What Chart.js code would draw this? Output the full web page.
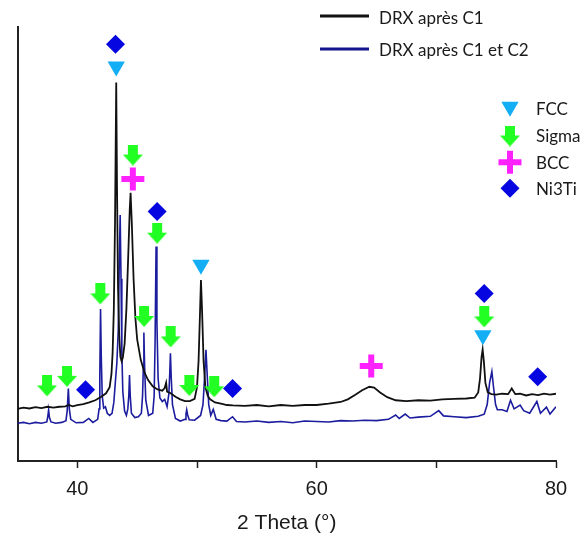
<!DOCTYPE html>
<html>
<head>
<meta charset="utf-8">
<script src="https://cdn.jsdelivr.net/npm/chart.js@4/dist/chart.umd.min.js"></script>
<style>
  html, body { margin: 0; padding: 0; background: #fff; }
  #wrap { width: 585px; height: 539px; position: relative; }
</style>
</head>
<body>
<div id="wrap"><canvas id="xrdChart"></canvas></div>
<script>
// 2 Theta positions and intensities (arbitrary units, 0-100 of the plot height)
var blackTheta = [35.0, 35.5, 36.0, 36.5, 37.0, 37.5, 38.0, 38.5, 39.0, 39.3, 39.6, 40.0, 40.5, 41.0, 41.5, 42.0, 42.4, 42.7, 42.85, 42.95, 43.05, 43.15, 43.25, 43.32, 43.4, 43.5, 43.6, 43.7, 43.8, 43.95, 44.1, 44.25, 44.38, 44.45, 44.55, 44.7, 44.85, 45.0, 45.3, 45.6, 45.9, 46.3, 46.7, 47.1, 47.3, 47.42, 47.5, 47.8, 48.2, 48.6, 49.0, 49.4, 49.8, 50.0, 50.13, 50.25, 50.33, 50.42, 50.55, 50.7, 50.9, 51.1, 51.5, 52.0, 52.5, 53.0, 54.0, 55.0, 56.0, 57.0, 58.0, 59.0, 60.0, 61.0, 62.0, 62.6, 63.2, 63.8, 64.4, 64.8, 65.3, 65.9, 66.6, 67.5, 68.5, 69.5, 70.5, 71.5, 72.5, 73.2, 73.5, 73.65, 73.78, 73.87, 73.97, 74.1, 74.3, 74.6, 75.0, 75.5, 76.0, 76.3, 76.6, 77.0, 77.5, 78.0, 78.5, 79.0, 79.5, 80.0];
var blackInt = [12.0, 12.3, 12.1, 12.4, 12.2, 12.5, 12.3, 12.5, 12.6, 12.9, 12.6, 12.9, 13.1, 13.5, 14.0, 14.8, 15.6, 17.0, 20.0, 25.0, 35.0, 55.0, 87.2, 62.0, 40.0, 29.0, 24.0, 23.0, 23.8, 27.0, 35.0, 47.0, 58.0, 61.8, 55.0, 42.0, 33.0, 28.0, 23.3, 20.5, 18.7, 17.2, 16.5, 16.2, 16.8, 18.0, 16.0, 15.6, 14.8, 14.2, 13.8, 13.8, 14.3, 17.0, 23.0, 34.0, 41.7, 35.0, 23.0, 17.0, 15.0, 14.2, 13.5, 13.2, 12.9, 12.8, 12.7, 12.9, 12.6, 12.9, 12.7, 12.9, 12.9, 13.2, 13.6, 14.2, 15.2, 16.3, 17.1, 16.9, 15.8, 14.7, 14.0, 13.8, 14.0, 13.9, 14.2, 14.3, 14.4, 14.6, 15.8, 19.0, 24.0, 25.7, 23.0, 18.0, 15.8, 15.4, 15.3, 15.5, 15.4, 16.7, 15.4, 15.5, 15.1, 15.4, 15.2, 15.5, 15.3, 15.5];

var blueTheta = [35.0, 35.5, 36.0, 36.5, 37.0, 37.45, 37.53, 37.6, 37.67, 37.8, 38.2, 38.7, 39.05, 39.15, 39.25, 39.33, 39.45, 39.9, 40.5, 40.95, 41.3, 41.7, 41.82, 41.88, 41.94, 42.0, 42.08, 42.2, 42.35, 42.5, 42.7, 42.9, 43.05, 43.2, 43.3, 43.42, 43.5, 43.58, 43.65, 43.72, 43.8, 43.95, 44.1, 44.22, 44.3, 44.36, 44.42, 44.52, 44.8, 45.1, 45.35, 45.45, 45.52, 45.56, 45.62, 45.72, 45.95, 46.3, 46.42, 46.5, 46.58, 46.65, 46.75, 46.9, 47.1, 47.3, 47.5, 47.65, 47.72, 47.78, 47.85, 47.95, 48.2, 48.6, 49.0, 49.08, 49.14, 49.22, 49.35, 49.8, 50.3, 50.5, 50.65, 50.75, 50.85, 50.98, 51.15, 51.36, 51.6, 52.0, 52.5, 52.97, 53.3, 54.0, 55.0, 56.0, 57.0, 58.0, 59.0, 60.0, 61.0, 62.0, 63.0, 64.0, 65.0, 66.0, 66.6, 66.9, 67.4, 67.8, 68.5, 69.5, 70.2, 70.6, 71.5, 72.5, 73.5, 74.0, 74.25, 74.45, 74.64, 74.78, 74.95, 75.1, 75.5, 75.9, 76.2, 76.5, 77.0, 77.3, 77.8, 78.4, 78.7, 79.2, 79.5, 80.0];
var blueInt = [8.7, 8.9, 8.6, 8.9, 8.7, 9.0, 10.2, 11.8, 10.0, 9.0, 8.7, 8.9, 9.3, 11.5, 16.7, 12.0, 9.6, 8.8, 8.9, 9.8, 8.9, 9.6, 12.0, 20.0, 35.0, 24.0, 15.0, 12.2, 12.5, 11.0, 10.5, 11.0, 13.5, 19.0, 22.5, 30.0, 45.0, 56.7, 42.0, 25.0, 16.0, 11.5, 10.5, 12.0, 15.0, 19.8, 15.0, 11.0, 10.0, 10.2, 11.0, 15.0, 22.0, 29.6, 22.0, 14.0, 10.5, 11.0, 15.0, 28.0, 49.4, 32.0, 19.0, 14.5, 13.7, 14.2, 12.5, 15.5, 20.0, 24.8, 19.0, 13.0, 9.8, 9.2, 9.6, 10.8, 11.8, 10.6, 9.5, 9.4, 10.5, 13.0, 20.0, 25.6, 20.0, 13.0, 10.5, 11.9, 9.6, 9.3, 9.2, 10.2, 9.1, 9.0, 9.2, 8.9, 9.1, 8.8, 9.2, 9.1, 9.0, 9.3, 9.2, 9.4, 9.3, 9.6, 10.6, 9.8, 10.8, 9.9, 10.1, 10.3, 11.6, 10.4, 10.2, 10.0, 10.3, 10.8, 13.0, 18.0, 20.6, 17.0, 13.0, 11.8, 11.8, 11.4, 14.0, 12.0, 12.9, 11.6, 11.0, 13.7, 11.0, 12.4, 10.8, 12.5];

// phase markers (2 Theta, height of the marker)
var fccTheta = [43.25, 50.33, 73.89];
var fccPos = [90.9, 45.2, 29.0];
var sigmaTheta = [37.47, 39.14, 41.92, 44.64, 45.58, 46.67, 47.8, 49.36, 51.44, 74.0];
var sigmaPos = [17.3, 19.5, 38.5, 70.5, 33.3, 52.5, 28.6, 17.4, 17.1, 33.2];
var bccTheta = [44.64, 64.56];
var bccPos = [65.0, 21.9];
var ni3tiTheta = [43.19, 46.67, 40.69, 52.97, 74.0, 78.47];
var ni3tiPos = [96.0, 57.5, 16.4, 16.7, 38.6, 19.4];

var xTickValues = [40, 50, 60, 70, 80];
var xTickLabels = [40, 60, 80];

var seriesNames = ['DRX après C1', 'DRX après C1 et C2'];
var phaseNames = ['FCC', 'Sigma', 'BCC', 'Ni3Ti'];

function toPoints(xs, ys) {
    return xs.map(function (x, i) { return { x: x, y: ys[i] }; });
}

// green down arrow used as point style
function makeArrow(color) {
    var c = document.createElement('canvas');
    c.width = 20;
    c.height = 21;
    var g = c.getContext('2d');
    g.fillStyle = color;
    g.beginPath();
    g.moveTo(5, 0);
    g.lineTo(15, 0);
    g.lineTo(15, 10);
    g.lineTo(20, 10);
    g.lineTo(10, 21);
    g.lineTo(0, 10);
    g.lineTo(5, 10);
    g.closePath();
    g.fill();
    return c;
}

var arrowImg = makeArrow('#22ff22');

var markerStyles = [
    { pointStyle: 'triangle', rotation: 180, radius: 10, color: '#14aef5', borderWidth: 0 },
    { pointStyle: arrowImg, rotation: 0, radius: 10, color: '#22ff22', borderWidth: 0 },
    { pointStyle: 'cross', rotation: 0, radius: 11.5, color: '#ff22ff', borderWidth: 6 },
    { pointStyle: 'rectRot', rotation: 0, radius: 9.5, color: '#0606e0', borderWidth: 0 }
];

function markerDataset(label, xs, ys, st) {
    return {
        label: label,
        type: 'scatter',
        data: toPoints(xs, ys),
        showLine: false,
        pointStyle: st.pointStyle,
        rotation: st.rotation,
        pointRadius: st.radius,
        pointHoverRadius: st.radius,
        backgroundColor: st.color,
        borderColor: st.color,
        borderWidth: st.borderWidth,
        order: 0
    };
}

// legends drawn at fixed places like in the figure
var legendPlugin = {
    id: 'xrdLegend',
    afterDraw: function (chart) {
        var ctx = chart.ctx;
        ctx.save();
        ctx.font = '17px Lato';
        ctx.fillStyle = '#1a1a1a';
        ctx.textBaseline = 'alphabetic';
        ctx.textAlign = 'left';

        var lineColors = ['#111111', '#14148c'];
        var lineY = [16, 49];
        var textY = [24, 56];
        for (var i = 0; i < seriesNames.length; i++) {
            ctx.strokeStyle = lineColors[i];
            ctx.lineWidth = 3;
            ctx.beginPath();
            ctx.moveTo(320, lineY[i]);
            ctx.lineTo(369, lineY[i]);
            ctx.stroke();
            ctx.fillText(seriesNames[i], 379, textY[i]);
        }

        var markY = [106.7, 136, 162.3, 188.3];
        var labY = [115, 142, 168.5, 195];
        for (var j = 0; j < phaseNames.length; j++) {
            var st = markerStyles[j];
            ctx.fillStyle = st.color;
            ctx.strokeStyle = st.color;
            ctx.lineWidth = st.borderWidth;
            Chart.helpers.drawPoint(ctx, {
                pointStyle: st.pointStyle,
                rotation: st.rotation,
                radius: st.radius,
                borderWidth: st.borderWidth
            }, 510, markY[j]);
            ctx.fillStyle = '#1a1a1a';
            ctx.fillText(phaseNames[j], 536, labY[j]);
        }
        ctx.restore();
    }
};

var ctx = document.getElementById('xrdChart').getContext('2d');
var xrdChart = new Chart(ctx, {
    type: 'line',
    data: {
        datasets: [
            markerDataset(phaseNames[0], fccTheta, fccPos, markerStyles[0]),
            markerDataset(phaseNames[1], sigmaTheta, sigmaPos, markerStyles[1]),
            markerDataset(phaseNames[2], bccTheta, bccPos, markerStyles[2]),
            markerDataset(phaseNames[3], ni3tiTheta, ni3tiPos, markerStyles[3]),
            {
                label: seriesNames[0],
                data: toPoints(blackTheta, blackInt),
                borderColor: '#111111',
                borderWidth: 1.8,
                pointRadius: 0,
                tension: 0,
                order: 1
            },
            {
                label: seriesNames[1],
                data: toPoints(blueTheta, blueInt),
                borderColor: '#1c1c9e',
                borderWidth: 1.6,
                pointRadius: 0,
                tension: 0,
                order: 2
            }
        ]
    },
    options: {
        responsive: true,
        maintainAspectRatio: false,
        animation: false,
        layout: {
            padding: { left: 14, top: 27, right: 29, bottom: 0 }
        },
        plugins: {
            legend: { display: false },
            tooltip: { enabled: false }
        },
        scales: {
            x: {
                type: 'linear',
                min: 35,
                max: 80,
                afterBuildTicks: function (axis) {
                    axis.ticks = xTickValues.map(function (v) { return { value: v }; });
                },
                afterFit: function (scale) {
                    scale.height = 78;
                },
                ticks: {
                    autoSkip: false,
                    maxRotation: 0,
                    padding: 9,
                    color: '#1a1a1a',
                    font: { family: 'Liberation Sans', size: 20 },
                    callback: function (value) {
                        return xTickLabels.indexOf(value) >= 0 ? String(value) : '';
                    }
                },
                grid: {
                    display: true,
                    drawOnChartArea: false,
                    drawTicks: true,
                    tickLength: 7,
                    tickColor: '#222',
                    tickWidth: 1.5
                },
                border: { display: true, color: '#222', width: 2 },
                title: {
                    display: true,
                    text: '2 Theta (°)',
                    color: '#1a1a1a',
                    font: { family: 'Liberation Sans', size: 21 },
                    padding: { top: 4, bottom: 3 }
                }
            },
            y: {
                min: 0,
                max: 100,
                ticks: { display: false },
                grid: { display: false, drawTicks: false },
                border: { display: true, color: '#222', width: 2 }
            }
        }
    },
    plugins: [legendPlugin]
});
</script>
</body>
</html>
